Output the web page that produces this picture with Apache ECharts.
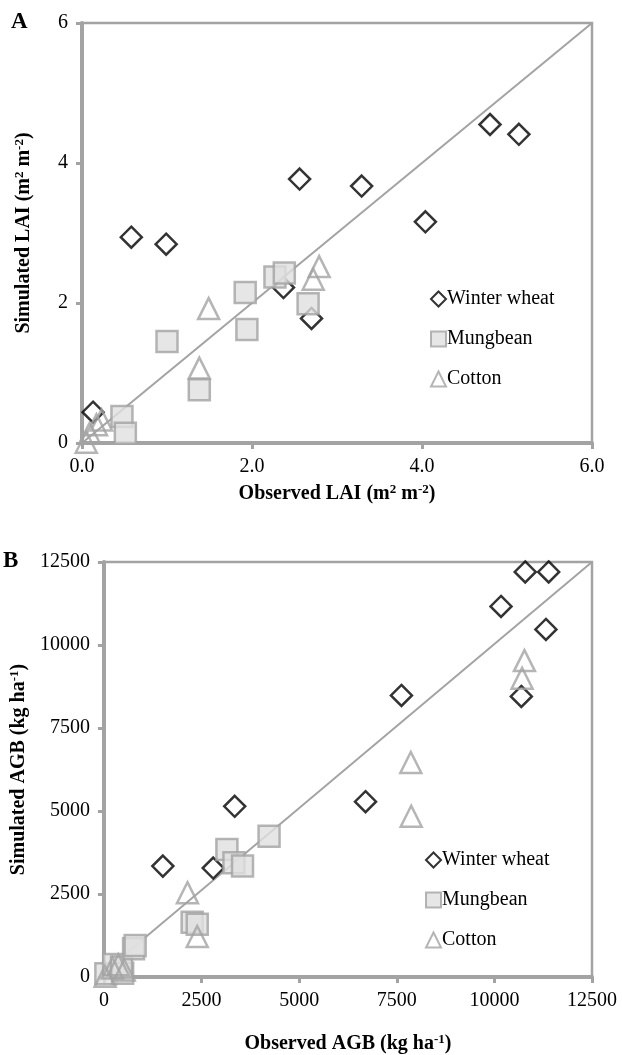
<!DOCTYPE html>
<html>
<head>
<meta charset="utf-8">
<script src="https://cdn.jsdelivr.net/npm/echarts@6/dist/echarts.min.js"></script>
<style>
html,body{margin:0;padding:0;background:#fff;}
#chart{width:622px;height:1055px;}
</style>
</head>
<body>
<div id="chart"></div>
<script>
// ---- Data ----
const seriesNames = ['Winter wheat', 'Mungbean', 'Cotton'];

// Panel A: LAI (observed, simulated)
const laiWheatObs  = [0.13, 0.58, 0.99, 2.37, 2.56, 2.70, 3.29, 4.04, 4.80, 5.14];
const laiWheatSim  = [0.44, 2.94, 2.84, 2.22, 3.77, 1.78, 3.67, 3.16, 4.55, 4.41];
const laiMungObs   = [0.47, 0.51, 1.00, 1.38, 1.92, 1.94, 2.27, 2.38, 2.66];
const laiMungSim   = [0.38, 0.14, 1.45, 0.76, 2.15, 1.62, 2.37, 2.43, 1.99];
const laiCottonObs = [0.05, 0.09, 0.17, 0.23, 1.38, 1.49, 2.72, 2.79];
const laiCottonSim = [0.01, 0.14, 0.26, 0.33, 1.07, 1.92, 2.34, 2.52];
const laiOneToOneX = [0, 6];
const laiOneToOneY = [0, 6];

// Panel B: AGB (observed, simulated)
const agbWheatObs  = [1510, 2800, 3350, 6700, 7620, 10170, 10790, 11390, 11320, 10690];
const agbWheatSim  = [3340, 3280, 5140, 5280, 8480, 11160, 12200, 12200, 10470, 8450];
const agbMungObs   = [50, 250, 480, 450, 760, 800, 2260, 2390, 3150, 3330, 3550, 4230];
const agbMungSim   = [100, 380, 110, 300, 850, 950, 1650, 1590, 3840, 3440, 3340, 4240];
const agbCottonObs = [30, 220, 370, 520, 2140, 2390, 7860, 7870, 10710, 10770];
const agbCottonSim = [20, 270, 370, 210, 2540, 1220, 6460, 4840, 9000, 9530];
const agbOneToOneX = [-250, 12500];
const agbOneToOneY = [-100, 12500];

// ---- helpers ----
const zip = (a, b) => a.map((v, i) => [v, b[i]]);
const FONT = 'Liberation Serif';
const GRAY = '#a3a3a3';

const supRich = {
  s: { fontSize: 13, fontWeight: 'bold', fontFamily: FONT, color: '#000', verticalAlign: 'top', lineHeight: 22 },
  n: { fontSize: 20, fontWeight: 'bold', fontFamily: FONT, color: '#000', lineHeight: 22 }
};
const nameStyle = { fontFamily: FONT, fontWeight: 'bold', fontSize: 20, color: '#000', rich: supRich };

function axisCommon(extra) {
  return Object.assign({
    type: 'value',
    axisLine: { show: true, lineStyle: { color: GRAY, width: 4 } },
    axisTick: { show: true, inside: false, length: 6, lineStyle: { color: GRAY, width: 3 } },
    splitLine: { show: false },
    nameLocation: 'middle',
    nameTextStyle: nameStyle
  }, extra);
}

const styles = {
  'Winter wheat': { symbol: 'diamond', itemStyle: { color: 'rgba(255,255,255,0)', borderColor: '#000', borderWidth: 2.5 } },
  'Mungbean': { symbol: 'rect', itemStyle: { color: '#e0e0e0', borderColor: GRAY, borderWidth: 2.5 } },
  'Cotton': { symbol: 'triangle', itemStyle: { color: 'rgba(255,255,255,0)', borderColor: GRAY, borderWidth: 2.5 } }
};

function scatter(name, data, idx) {
  return {
    type: 'scatter', name: name, xAxisIndex: idx, yAxisIndex: idx,
    data: data, symbol: styles[name].symbol, symbolSize: 21,
    itemStyle: styles[name].itemStyle, z: 3
  };
}

function lineSeries(xs, ys, idx) {
  return {
    type: 'line', xAxisIndex: idx, yAxisIndex: idx, data: zip(xs, ys),
    symbol: 'none', clip: false, silent: true,
    lineStyle: { color: GRAY, width: 2 }, z: 2
  };
}

const legendCommon = {
  orient: 'vertical', itemWidth: 15, itemHeight: 15, itemGap: 20,
  textStyle: { fontFamily: FONT, fontSize: 20, color: '#000', padding: [0, 0, 0, -4] },
  data: [
    { name: 'Winter wheat', icon: 'diamond' },
    { name: 'Mungbean', icon: 'rect' },
    { name: 'Cotton', icon: 'triangle' }
  ],
  selectedMode: false
};

const labelStyle = { fontFamily: FONT, fontSize: 20, color: '#000', margin: 14 };

const option = {
  animation: false,
  backgroundColor: '#fff',
  grid: [
    { left: 82, top: 23, width: 510, height: 420, show: true, borderColor: GRAY, borderWidth: 2.5, backgroundColor: '#fff' },
    { left: 102, top: 562, width: 490, height: 418, show: true, borderColor: GRAY, borderWidth: 2.5, backgroundColor: '#fff' }
  ],
  xAxis: [
    axisCommon({ gridIndex: 0, min: 0, max: 6, interval: 2,
      axisLabel: Object.assign({ formatter: v => v.toFixed(1) }, labelStyle),
      name: '{n|Observed LAI (m}{s|2}{n| m}{s|-2}{n|)}', nameGap: 40 }),
    axisCommon({ gridIndex: 1, min: 0, max: 12500, interval: 2500,
      axisLabel: Object.assign({ formatter: v => String(v) }, labelStyle),
      name: '{n|Observed AGB (kg ha}{s|-1}{n|)}', nameGap: 56 })
  ],
  yAxis: [
    axisCommon({ gridIndex: 0, min: 0, max: 6, interval: 2,
      axisLabel: Object.assign({ formatter: v => String(v) }, labelStyle),
      name: '{n|Simulated LAI (m}{s|2}{n| m}{s|-2}{n|)}', nameGap: 47 }),
    axisCommon({ gridIndex: 1, min: 0, max: 12500, interval: 2500,
      axisLabel: Object.assign({ formatter: v => String(v) }, labelStyle),
      name: '{n|Simulated AGB (kg ha}{s|-1}{n|)}', nameGap: 69 })
  ],
  legend: [
    Object.assign({}, legendCommon, { left: 425, top: 284 }),
    Object.assign({}, legendCommon, { left: 420, top: 845 })
  ],
  graphic: [
    { type: 'text', left: 11, top: 11, style: { text: 'A', fontFamily: FONT, fontWeight: 'bold', fontSize: 23, fill: '#000' } },
    { type: 'text', left: 3, top: 550, style: { text: 'B', fontFamily: FONT, fontWeight: 'bold', fontSize: 23, fill: '#000' } }
  ],
  series: [
    lineSeries(laiOneToOneX, laiOneToOneY, 0),
    scatter('Winter wheat', zip(laiWheatObs, laiWheatSim), 0),
    scatter('Mungbean', zip(laiMungObs, laiMungSim), 0),
    scatter('Cotton', zip(laiCottonObs, laiCottonSim), 0),
    lineSeries(agbOneToOneX, agbOneToOneY, 1),
    scatter('Winter wheat', zip(agbWheatObs, agbWheatSim), 1),
    scatter('Mungbean', zip(agbMungObs, agbMungSim), 1),
    scatter('Cotton', zip(agbCottonObs, agbCottonSim), 1)
  ]
};

const chart = echarts.init(document.getElementById('chart'), null, { renderer: 'canvas' });
chart.setOption(option);
</script>
</body>
</html>
